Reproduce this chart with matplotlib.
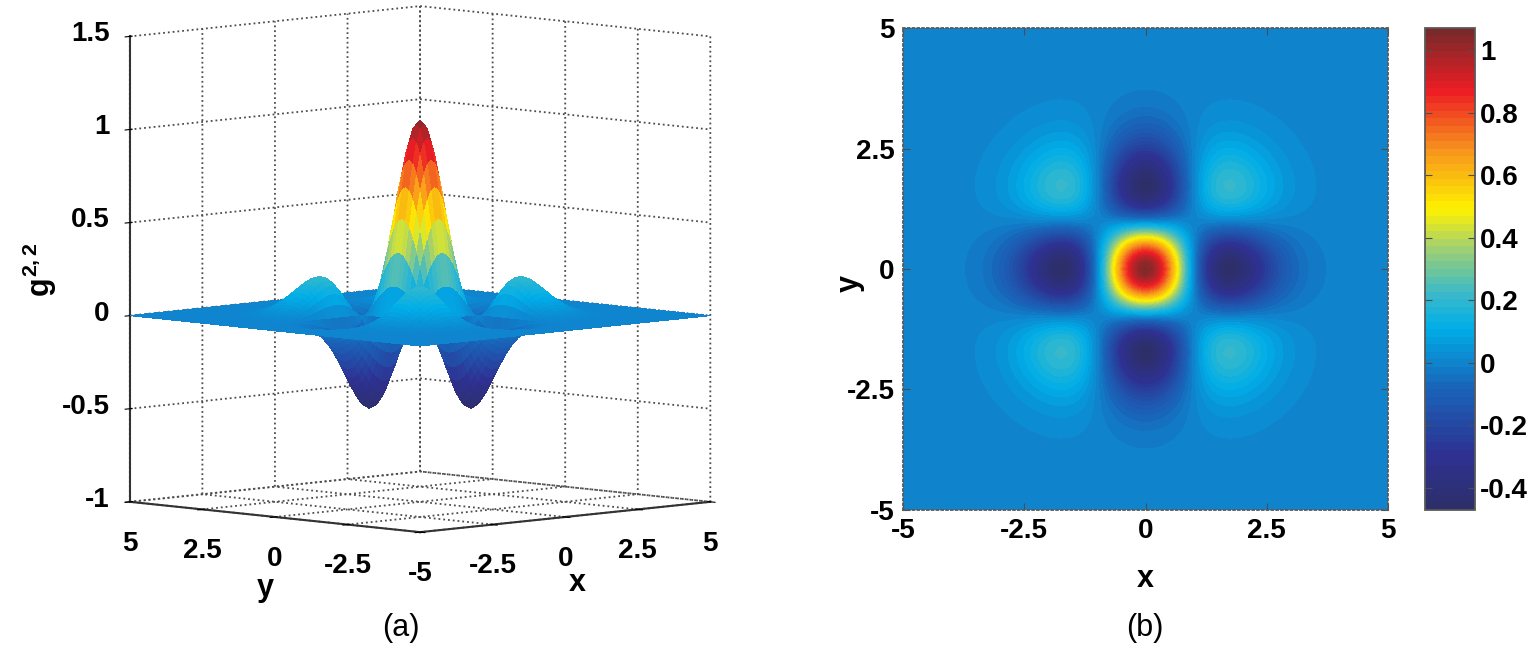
import numpy as np
import matplotlib
matplotlib.use("Agg")
import matplotlib.pyplot as plt
from matplotlib.colors import LinearSegmentedColormap

plt.rcParams["font.family"] = ["Liberation Sans", "DejaVu Sans"]
plt.rcParams["font.weight"] = "bold"
plt.rcParams["axes.labelweight"] = "bold"
plt.rcParams["mathtext.fontset"] = "custom"
plt.rcParams["mathtext.rm"] = "Liberation Sans:bold"
plt.rcParams["mathtext.it"] = "Liberation Sans:bold"
plt.rcParams["mathtext.bf"] = "Liberation Sans:bold"
plt.rcParams["grid.linestyle"] = ":"
plt.rcParams["grid.color"] = "0.3"
plt.rcParams["grid.linewidth"] = 1.3

# grid coordinates, -5 .. 5 in steps of 0.125
coords = np.linspace(-5, 5, 81)

# one-sided profile of g for t = 0, 0.125, ..., 5
profile_half = [
    1.0250, 1.0011, 0.9314, 0.8211, 0.6784, 0.5138, 0.3385, 0.1638,
    0.0000, -0.1446, -0.2640, -0.3547, -0.4160, -0.4491, -0.4572, -0.4446,
    -0.4162, -0.3769, -0.3313, -0.2835, -0.2364, -0.1926, -0.1533, -0.1194,
    -0.0911, -0.0681, -0.0498, -0.0358, -0.0252, -0.0174, -0.0118, -0.0079,
    -0.0052, -0.0033, -0.0021, -0.0013, -0.0008, -0.0005, -0.0003, -0.0002,
    -0.0001,
]
profile = np.array(profile_half[:0:-1] + profile_half)
g22 = np.outer(profile, profile)

xy_ticks = [-5, -2.5, 0, 2.5, 5]
xy_ticklabels = ["-5", "-2.5", "0", "2.5", "5"]
z_ticks = [-1, -0.5, 0, 0.5, 1, 1.5]
z_ticklabels = ["-1", "-0.5", "0", "0.5", "1", "1.5"]
cbar_ticks = [-0.4, -0.2, 0, 0.2, 0.4, 0.6, 0.8, 1]
cbar_ticklabels = ["-0.4", "-0.2", "0", "0.2", "0.4", "0.6", "0.8", "1"]
cmin, cmax = -0.47, 1.07

# muted jet, as printed in the figure
jet_nodes = [
    (0.00, "#2d2f6b"), (0.11, "#2e3192"), (0.25, "#1964b9"),
    (0.375, "#00aee8"), (0.45, "#3cb9c8"), (0.55, "#a8d26a"),
    (0.625, "#fff200"), (0.75, "#f7941d"), (0.875, "#ed1c24"),
    (1.00, "#7a2a2a"),
]
cmap = LinearSegmentedColormap.from_list("jet_print", jet_nodes, N=64)
cmap_smooth = LinearSegmentedColormap.from_list("jet_print_s", jet_nodes, N=256)

fig = plt.figure(figsize=(15.4, 6.5), dpi=100)

# ---- (a) surface ----
ax3 = fig.add_axes([-0.0127, 0.093, 0.56, 0.96], projection="3d")
ax3.set_proj_type("ortho")
ax3.view_init(elev=6, azim=-135)
ax3.set_box_aspect((1, 1, 1.14), zoom=1.16)
X, Y = np.meshgrid(coords, coords)
ax3.plot_surface(X, Y, g22, cmap=cmap_smooth, vmin=cmin, vmax=cmax,
                 rstride=1, cstride=1, linewidth=0, antialiased=False)
ax3.set_xlim(-5, 5)
ax3.set_ylim(-5, 5)
ax3.set_zlim(-1, 1.5)
ax3.set_xticks(xy_ticks)
ax3.set_yticks(xy_ticks)
ax3.set_zticks(z_ticks)
for axis in (ax3.xaxis, ax3.yaxis, ax3.zaxis):
    axis.set_tick_params(label1On=False, label2On=False)
    axis.set_pane_color((1, 1, 1, 1))
    axis.pane.set_edgecolor("none")
    axis.line.set_color("0.2")
    axis.line.set_linewidth(1.5)

fig.canvas.draw()
M = ax3.get_proj()


def fig_xy(x, y, z):
    v = M @ np.array([x, y, z, 1.0])
    disp = ax3.transData.transform((v[0] / v[3], v[1] / v[3]))
    return fig.transFigure.inverted().transform(disp)


# tick labels placed straight under / left of the ticks, as in the figure
for t, lab in zip(xy_ticks, xy_ticklabels):
    fx, fy = fig_xy(-5, t, -1.225)
    fig.text(fx, fy, lab, fontsize=20, ha="center", va="center")
for t, lab in zip(xy_ticks[1:], xy_ticklabels[1:]):
    fx, fy = fig_xy(t, -5, -1.225)
    fig.text(fx, fy, lab, fontsize=20, ha="center", va="center")
for t, lab in zip(z_ticks, z_ticklabels):
    fx, fy = fig_xy(-5, 5.7, t)
    fig.text(fx, fy, lab, fontsize=20, ha="right", va="center")

fig.text(0.172, 0.095, "y", fontsize=22, ha="center", va="center")
fig.text(0.375, 0.103, "x", fontsize=22, ha="center", va="center")
fig.text(0.026, 0.585, r"$g^{2,2}$", fontsize=22, rotation=90,
         ha="center", va="center")
fig.text(0.26, 0.034, "(a)", fontsize=22, fontweight="normal",
         ha="center", va="center")

# ---- (b) map ----
ax2 = fig.add_axes([0.5864, 0.2154, 0.3149, 0.7415])
cf = ax2.contourf(coords, coords, g22, levels=np.linspace(cmin, cmax, 65),
                  cmap=cmap)
ax2.set_xlim(-5, 5)
ax2.set_ylim(-5, 5)
ax2.set_xticks(xy_ticks)
ax2.set_xticklabels(xy_ticklabels)
ax2.set_yticks(xy_ticks)
ax2.set_yticklabels(xy_ticklabels)
ax2.tick_params(direction="in", length=5, labelsize=20, top=True, right=True,
                color="0.3", pad=6)
for sp in ax2.spines.values():
    sp.set_color("0.35")
    sp.set_linestyle(":")
    sp.set_linewidth(1.3)
ax2.set_xlabel("x", fontsize=22, labelpad=14)
ax2.set_ylabel("y", fontsize=22)
ax2.yaxis.set_label_coords(-0.08, 0.47)

cax = fig.add_axes([0.9253, 0.2154, 0.0325, 0.7415])
cb = fig.colorbar(cf, cax=cax, ticks=cbar_ticks)
cb.set_ticklabels(cbar_ticklabels)
cb.ax.tick_params(direction="in", length=5, labelsize=20, left=True,
                  right=True, color="0.3")
cb.outline.set_edgecolor("0.35")
cb.outline.set_linewidth(1.3)

fig.text(0.7435, 0.034, "(b)", fontsize=22, fontweight="normal",
         ha="center", va="center")

fig.savefig("out.png", dpi=100)
